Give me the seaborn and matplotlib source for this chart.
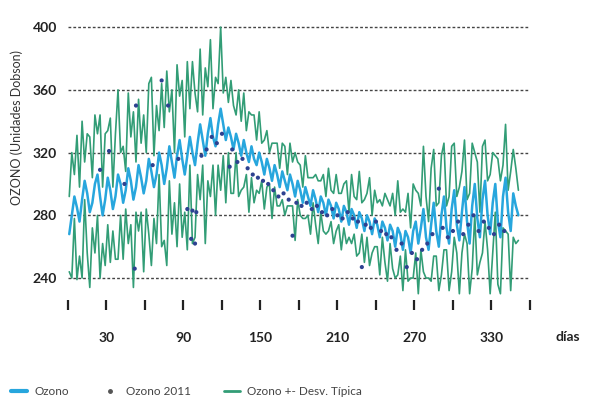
import numpy as np
import pandas as pd
import matplotlib
matplotlib.use("Agg")
import matplotlib.pyplot as plt
import seaborn as sns
from matplotlib.lines import Line2D

# Daily ozone climatology sampled every two days (days 1..351)
dias = list(range(1, 352, 2))

ozono_medio = [
    268, 280, 292, 285, 276, 290, 302, 294, 282, 288, 300, 306, 292, 280, 290, 304,
    296, 284, 292, 306, 300, 288, 296, 310, 302, 290, 298, 312, 304, 294,
    302, 316, 308, 298, 306, 320, 312, 300, 310, 324, 314, 304, 318, 328, 316,
    306, 318, 330, 320, 312, 326, 338, 328, 318, 332, 342, 330, 324, 338, 348,
    338, 328, 336, 330, 322, 332, 326, 318, 328, 320, 314, 324, 316, 312, 320,
    314, 306, 316, 310, 302, 312, 306, 298, 308, 302, 296, 306, 300, 292, 302,
    296, 288, 298, 292, 286, 296, 290, 282, 292, 288, 280, 290, 286, 278, 288,
    284, 276, 286, 282, 274, 284, 280, 272, 282, 278, 270, 280, 276, 268, 278,
    274, 266, 276, 272, 264, 274, 270, 260, 272, 268, 258, 270, 266, 256, 270,
    276, 262, 272, 284, 266, 258, 274, 288, 270, 260, 280, 292, 272, 262, 284,
    296, 274, 264, 282, 298, 276, 262, 286, 300, 278, 266, 290, 302, 280, 268,
    288, 300, 276, 266, 292, 304, 282, 270, 294, 286, 280,
]

desv_tipica = [
    24, 40, 14, 46, 22, 50, 12, 38, 48, 16, 44, 26, 52, 18, 42, 30,
    46, 14, 40, 54, 20, 36, 12, 48, 28, 56, 16, 42, 22, 50,
    18, 48, 60, 20, 44, 14, 52, 36, 62, 22, 46, 16, 58, 28, 50,
    24, 60, 18, 58, 46, 20, 48, 16, 56, 30, 50, 18, 44, 26, 52,
    20, 40, 16, 36, 28, 12, 34, 22, 30, 14, 32, 20, 28, 16, 26,
    12, 22, 18, 10, 24, 14, 20, 12, 18, 22, 10, 20, 14, 28, 12,
    16, 10, 20, 12, 18, 8, 16, 20, 10, 18, 12, 20, 10, 16, 18,
    10, 18, 14, 20, 8, 22, 12, 18, 26, 10, 20, 14, 28, 12, 18,
    14, 24, 10, 22, 26, 12, 24, 20, 30, 14, 26, 12, 28, 16, 30,
    20, 32, 14, 40, 26, 18, 36, 34, 16, 28, 38, 34, 14, 30, 40,
    30, 18, 34, 26, 30, 14, 32, 40, 20, 36, 16, 34, 26, 22, 38,
    32, 18, 40, 36, 20, 34, 14, 38, 28, 24, 16,
]

# 2011 measurements
dias_2011 = [25, 32, 44, 52, 53, 66, 73, 78, 86, 93, 96, 97, 99, 100, 104, 108, 112,
             116, 120, 126, 128, 132, 136, 140, 144, 148, 152, 156, 160, 164, 168,
             172, 175, 178, 182, 186, 190, 194, 198, 202, 206, 210, 214, 218, 222,
             226, 229, 232, 236, 240, 244, 248, 252, 256, 260, 264, 268, 272, 276,
             280, 284, 289, 292, 296, 300, 304, 308, 312, 316, 320, 324, 328, 332,
             336, 340]
ozono_2011 = [309, 321, 300, 246, 350, 312, 366, 350, 316, 284, 265, 283, 262, 282, 318,
              322, 330, 326, 332, 311, 322, 314, 316, 310, 306, 304, 302, 300, 296,
              292, 294, 290, 267, 288, 286, 288, 284, 286, 282, 280, 284, 280, 278,
              282, 278, 276, 247, 274, 272, 276, 270, 268, 266, 258, 262, 247, 256,
              252, 258, 262, 268, 297, 272, 266, 270, 276, 268, 274, 280, 270, 276,
              272, 268, 274, 270]

y_ticks = [240, 280, 320, 360, 400]
x_ticks = list(range(0, 361, 30))
x_labels = ["" if d % 60 == 0 else str(d) for d in x_ticks]

df = pd.DataFrame({"dia": dias, "medio": ozono_medio, "sd": desv_tipica})
df["sup"] = df["medio"] + df["sd"]
df["inf"] = df["medio"] - df["sd"]
df11 = pd.DataFrame({"dia": dias_2011, "ozono": ozono_2011})

sns.set_theme(style="white")
plt.rcParams["font.family"] = ["Lato", "DejaVu Sans"]

AZUL = "#27a6dd"
VERDE = "#329d76"
MARINO = "#2d4190"

fig = plt.figure(figsize=(6.14, 4.08), dpi=100)
ax = fig.add_axes([0.1107, 0.2647, 0.7524, 0.688])

for y in y_ticks:
    ax.axhline(y, color="#444444", lw=1.0, ls=(0, (2, 1.5)), zorder=1)

sns.lineplot(data=df, x="dia", y="sup", ax=ax, color=VERDE, lw=1.2, zorder=2)
sns.lineplot(data=df, x="dia", y="inf", ax=ax, color=VERDE, lw=1.2, zorder=2)
sns.lineplot(data=df, x="dia", y="medio", ax=ax, color=AZUL, lw=1.8, zorder=3)
sns.scatterplot(data=df11, x="dia", y="ozono", ax=ax, color=MARINO, s=9,
                edgecolor="none", zorder=4)

ax.set_xlim(0, 360)
ax.set_ylim(226, 405)
ax.set_yticks(y_ticks)
ax.set_yticklabels([str(v) for v in y_ticks], fontsize=10, fontweight="bold", color="#222222")
ax.set_xticks(x_ticks)
ax.set_xticklabels(x_labels, fontsize=10, fontweight="bold", color="#222222")
ax.tick_params(axis="x", length=7, width=1.6, color="#222222", direction="out", pad=16, bottom=True)
ax.tick_params(axis="y", length=0, pad=8)
for s in ax.spines.values():
    s.set_visible(False)
ax.set_xlabel("")
ax.set_ylabel("OZONO (Unidades Dobson)", fontsize=9, color="#333333")
ax.yaxis.set_label_coords(-0.097, 0.616)
ax.grid(False)

fig.text(0.905, 0.174, "días", fontsize=10, fontweight="bold", color="#222222", va="center")

handles = [
    Line2D([], [], color=AZUL, lw=3),
    Line2D([], [], color="#555555", marker="o", ls="none", markersize=2.5),
    Line2D([], [], color=VERDE, lw=2),
]
fig.legend(handles, ["Ozono", "Ozono 2011", "Ozono +- Desv. Típica"], loc="lower left",
           bbox_to_anchor=(0.0, 0.0), ncol=3, frameon=False, fontsize=8.5,
           handlelength=1.4, columnspacing=2.8, handletextpad=0.6, labelcolor="#444444")

fig.savefig("out.png", dpi=100)
